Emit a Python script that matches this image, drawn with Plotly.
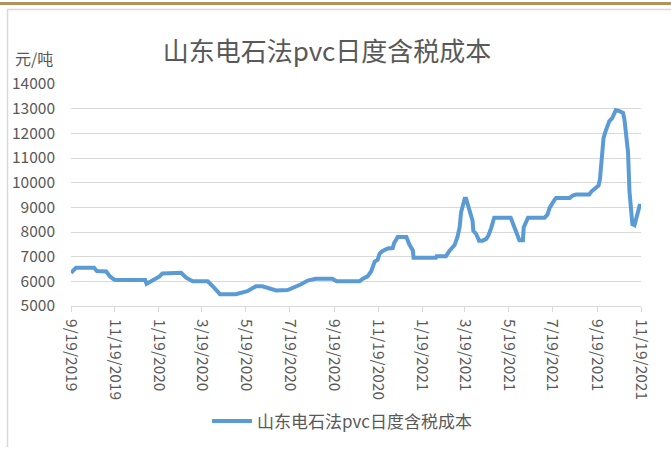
import plotly.graph_objects as go

dates = [
    "2019-09-19", "2019-09-26", "2019-10-21", "2019-10-25", "2019-11-07", "2019-11-12",
    "2019-11-18", "2019-11-21", "2019-12-31", "2020-01-02", "2020-01-20", "2020-01-24",
    "2020-02-19", "2020-02-26", "2020-03-06", "2020-03-27", "2020-04-03", "2020-04-13",
    "2020-05-05", "2020-05-21", "2020-06-02", "2020-06-11", "2020-06-30", "2020-07-16",
    "2020-08-03", "2020-08-13", "2020-08-24", "2020-09-16", "2020-09-22", "2020-10-24",
    "2020-10-28", "2020-11-04", "2020-11-09", "2020-11-14", "2020-11-18", "2020-11-21",
    "2020-11-25", "2020-12-02", "2020-12-09", "2020-12-11", "2020-12-16", "2020-12-28",
    "2021-01-01", "2021-01-06", "2021-01-07", "2021-02-07", "2021-02-08", "2021-02-21",
    "2021-02-26", "2021-03-05", "2021-03-09", "2021-03-12", "2021-03-14", "2021-03-19",
    "2021-03-21", "2021-03-26", "2021-03-30", "2021-03-31", "2021-04-04", "2021-04-08",
    "2021-04-13", "2021-04-18", "2021-04-21", "2021-04-25", "2021-04-29", "2021-05-22",
    "2021-05-27", "2021-06-01", "2021-06-03", "2021-06-08", "2021-06-09", "2021-06-15",
    "2021-07-08", "2021-07-12", "2021-07-15", "2021-07-22", "2021-07-24", "2021-08-12",
    "2021-08-16", "2021-08-21", "2021-09-08", "2021-09-11", "2021-09-15", "2021-09-21",
    "2021-09-23", "2021-09-25", "2021-09-27", "2021-09-28", "2021-10-01", "2021-10-06",
    "2021-10-10", "2021-10-13", "2021-10-15", "2021-10-20", "2021-10-25", "2021-10-27",
    "2021-10-29", "2021-11-01", "2021-11-03", "2021-11-05", "2021-11-07", "2021-11-10",
    "2021-11-14", "2021-11-17", "2021-11-19",
]
costs = [
    6350, 6550, 6550, 6420, 6400, 6200,
    6070, 6050, 6050, 5900, 6200, 6320,
    6350, 6150, 6000, 6000, 5800, 5480,
    5480, 5600, 5800, 5800, 5630, 5650,
    5870, 6030, 6100, 6100, 6000, 6000,
    6100, 6200, 6400, 6800, 6870, 7130,
    7230, 7330, 7350, 7550, 7800, 7800,
    7500, 7250, 6960, 6960, 7020, 7020,
    7240, 7470, 7800, 8200, 8800, 9350,
    9350, 8900, 8450, 8050, 7920, 7650,
    7650, 7720, 7850, 8180, 8580, 8580,
    8180, 7850, 7670, 7670, 8180, 8580,
    8580, 8700, 8980, 9310, 9380, 9380,
    9480, 9520, 9520, 9640, 9720, 9880,
    10150, 10950, 11350, 11830, 12100, 12500,
    12620, 12830, 12940, 12900, 12830, 12560,
    11900, 11230, 9650, 9120, 8320, 8280,
    8720, 9060, 9060,
]
tick_dates = [
    "2019-09-19", "2019-11-19", "2020-01-19", "2020-03-19", "2020-05-19", "2020-07-19",
    "2020-09-19", "2020-11-19", "2021-01-19", "2021-03-19", "2021-05-19", "2021-07-19",
    "2021-09-19", "2021-11-19",
]
tick_labels = [
    "9/19/2019", "11/19/2019", "1/19/2020", "3/19/2020", "5/19/2020", "7/19/2020",
    "9/19/2020", "11/19/2020", "1/19/2021", "3/19/2021", "5/19/2021", "7/19/2021",
    "9/19/2021", "11/19/2021",
]
series_name = "山东电石法pvc日度含税成本"
title_text = "山东电石法pvc日度含税成本"
unit_text = "元/吨"

FONT = "Noto Sans CJK SC, Noto Sans, sans-serif"
GREY = "#595959"

fig = go.Figure()
fig.add_trace(go.Scatter(
    x=dates, y=costs, mode="lines", name=series_name,
    line=dict(color="#5b9bd5", width=4),
))

W, H = 671, 452
L, R, T, B = 71, 30, 84, 143
pw, ph = W - L - R, H - T - B

def px_x(p):
    return (p - L) / pw

def px_y(p):
    return (H - B - p) / ph

fig.update_layout(
    width=W, height=H,
    margin=dict(l=L, r=R, t=T, b=B),
    paper_bgcolor="white", plot_bgcolor="white",
    font=dict(family=FONT, color=GREY, size=14),
    showlegend=True,
    title=dict(text=title_text, x=327 / W, xanchor="center", xref="container",
               y=1 - 52 / H, yanchor="middle", yref="container",
               font=dict(size=26, color=GREY, family=FONT)),
    legend=dict(orientation="h", x=px_x(342), xanchor="center", y=px_y(426), yanchor="middle",
                font=dict(size=17, color=GREY, family=FONT), itemwidth=40,
                bgcolor="rgba(0,0,0,0)"),
    xaxis=dict(type="date", range=[tick_dates[0], tick_dates[-1]],
               tickvals=tick_dates, ticktext=tick_labels, tickangle=90,
               showgrid=False, showline=True, linecolor="#d9d9d9", linewidth=1,
               ticks="outside", ticklen=5, tickcolor="#d9d9d9", ticklabelstandoff=4,
               tickfont=dict(size=15.5, color=GREY), zeroline=False),
    yaxis=dict(range=[5000, 14000], dtick=1000, tick0=5000, tickformat="d",
               showgrid=True, gridcolor="#d9d9d9", gridwidth=1,
               showline=False, zeroline=False, ticks="", ticklabelstandoff=15,
               tickfont=dict(size=15.5, color=GREY)),
    shapes=[
        dict(type="line", xref="paper", yref="paper", x0=px_x(0), x1=px_x(W),
             y0=px_y(2.5), y1=px_y(2.5), line=dict(color="#b0925a", width=3)),
        dict(type="line", xref="paper", yref="paper", x0=px_x(7), x1=px_x(W),
             y0=px_y(8.5), y1=px_y(8.5), line=dict(color="#d9d9d9", width=1.5)),
        dict(type="line", xref="paper", yref="paper", x0=px_x(7.5), x1=px_x(7.5),
             y0=px_y(8.5), y1=px_y(H), line=dict(color="#d9d9d9", width=1.5)),
    ],
    annotations=[
        dict(text=unit_text, xref="paper", yref="paper", x=px_x(13), xanchor="left",
             y=px_y(58), yanchor="middle", showarrow=False,
             font=dict(size=16, color=GREY, family=FONT)),
    ],
)

fig.write_html("out.html", config={"displayModeBar": False},
               post_script="document.body.style.margin='0';")
